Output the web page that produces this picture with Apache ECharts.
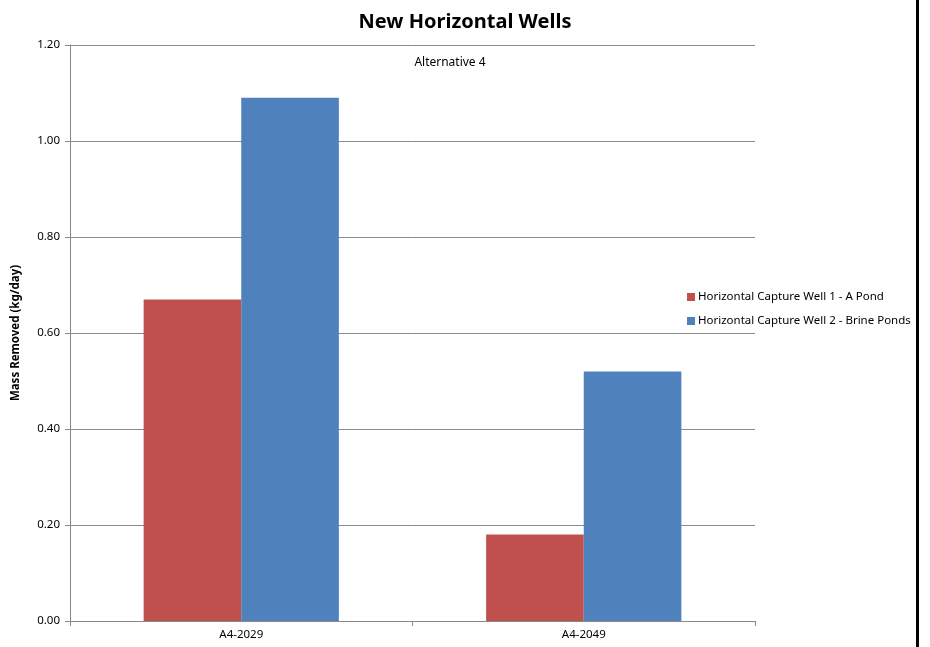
<!DOCTYPE html>
<html><head><meta charset="utf-8">
<script src="https://cdn.jsdelivr.net/npm/echarts@6/dist/echarts.min.js"></script>
<style>html,body{margin:0;padding:0;background:#fff}#c{width:930px;height:647px}</style>
</head><body><div id="c"></div>
<script>
var categories = ["A4-2029", "A4-2049"];
var seriesNames = ["Horizontal Capture Well 1 - A Pond", "Horizontal Capture Well 2 - Brine Ponds"];
var well1 = [0.67, 0.18];
var well2 = [1.09, 0.52];
var colors = ["#C0504D", "#4F81BD"];
var FONT = "Noto Sans";
var chart = echarts.init(document.getElementById('c'));
chart.setOption({
  animation: false,
  textStyle: {fontFamily: FONT},
  title: [
    {text: "New Horizontal Wells", left: 460, top: 7, textAlign: 'center',
     textStyle: {fontFamily: FONT, fontSize: 20, fontWeight: 'bold', color: '#000'}},
    {text: "Alternative 4", left: 445, top: 52, textAlign: 'center',
     textStyle: {fontFamily: FONT, fontSize: 12, fontWeight: 'normal', color: '#000'}}
  ],
  legend: {
    orient: 'vertical', left: 682, top: 286, itemWidth: 8, itemHeight: 8, itemGap: 12,
    icon: 'rect', textStyle: {fontFamily: FONT, fontSize: 11.5, color: '#000', padding: [0,0,0,-2]},
    data: seriesNames
  },
  grid: {left: 70, right: 175, top: 45, bottom: 26},
  xAxis: {
    type: 'category', data: categories,
    axisLine: {lineStyle: {color: '#888', width: 1}},
    axisTick: {show: true, alignWithLabel: false, length: 5, lineStyle: {color: '#888'}},
    axisLabel: {color: '#000', fontSize: 11.5, fontFamily: FONT, margin: 8}
  },
  yAxis: {
    type: 'value', min: 0, max: 1.2, interval: 0.2,
    name: "Mass Removed (kg/day)", nameLocation: 'middle', nameGap: 48,
    nameTextStyle: {fontFamily: FONT, fontSize: 11.5, fontWeight: 'bold', color: '#000'},
    axisLine: {show: true, lineStyle: {color: '#888'}},
    axisTick: {show: true, length: 5, lineStyle: {color: '#888'}},
    axisLabel: {color: '#000', fontSize: 11.5, fontFamily: FONT, margin: 10,
      formatter: function (v) { return v.toFixed(2); }},
    splitLine: {lineStyle: {color: '#8a8a8a', width: 1}}
  },
  series: [
    {name: seriesNames[0], type: 'bar', data: well1, itemStyle: {color: colors[0]},
     barGap: '0%', barCategoryGap: '43%'},
    {name: seriesNames[1], type: 'bar', data: well2, itemStyle: {color: colors[1]},
     barGap: '0%', barCategoryGap: '43%'}
  ],
  graphic: [
    {type: 'rect', shape: {x: 916, y: 0, width: 3, height: 647}, style: {fill: '#000'}}
  ]
});
</script></body></html>
